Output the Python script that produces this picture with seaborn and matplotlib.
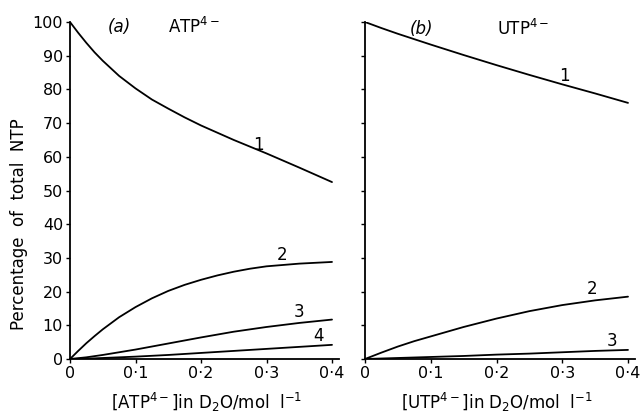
import matplotlib
matplotlib.use("Agg")
import matplotlib.pyplot as plt
import seaborn as sns

# ---- data ----
x_atp_1 = [0.0, 0.0125, 0.025, 0.0375, 0.05, 0.075, 0.1, 0.125, 0.15, 0.175, 0.2, 0.25, 0.3, 0.35, 0.4]
atp_1 = [100.0, 96.8, 93.8, 91.0, 88.5, 84.0, 80.3, 77.0, 74.3, 71.7, 69.3, 65.0, 61.0, 56.8, 52.5]
x_atp_2 = [0.0, 0.0125, 0.025, 0.0375, 0.05, 0.075, 0.1, 0.125, 0.15, 0.175, 0.2, 0.225, 0.25, 0.275, 0.3, 0.35, 0.4]
atp_2 = [0.0, 2.4, 4.7, 6.8, 8.8, 12.4, 15.4, 18.0, 20.2, 22.0, 23.5, 24.8, 25.9, 26.8, 27.5, 28.3, 28.8]
x_atp_34 = [0.0, 0.025, 0.05, 0.075, 0.1, 0.15, 0.2, 0.25, 0.3, 0.35, 0.4]
atp_3 = [0.0, 0.5, 1.2, 2.0, 2.8, 4.6, 6.4, 8.1, 9.5, 10.7, 11.7]
atp_4 = [0.0, 0.1, 0.3, 0.5, 0.7, 1.2, 1.8, 2.4, 3.0, 3.6, 4.2]

x_utp = [0.0, 0.025, 0.05, 0.075, 0.1, 0.15, 0.2, 0.25, 0.3, 0.35, 0.4]
utp_1 = [100.0, 98.2, 96.5, 94.9, 93.3, 90.2, 87.2, 84.3, 81.5, 78.8, 76.0]
utp_2 = [0.0, 1.9, 3.7, 5.3, 6.7, 9.5, 12.0, 14.2, 16.0, 17.4, 18.5]
utp_3 = [0.0, 0.15, 0.3, 0.45, 0.6, 0.9, 1.3, 1.6, 2.0, 2.4, 2.7]

x_ticks = [0.0, 0.1, 0.2, 0.3, 0.4]
x_tick_labels = ["0", "0·1", "0·2", "0·3", "0·4"]
y_ticks = [0, 10, 20, 30, 40, 50, 60, 70, 80, 90, 100]

sns.set_style("ticks")
plt.rcParams["font.family"] = ["DejaVu Sans"]
plt.rcParams["mathtext.default"] = "regular"
for k in ("text.color", "axes.labelcolor", "xtick.color", "ytick.color", "axes.edgecolor"):
    plt.rcParams[k] = "black"

fig = plt.figure(figsize=(6.42, 4.15), dpi=100)
W, H = 642, 415
xmax = 0.41
ax_a = fig.add_axes([70 / W, 1 - 359 / H, (262 / 0.4 * xmax) / W, 337 / H])
ax_b = fig.add_axes([365 / W, 1 - 359 / H, (263 / 0.4 * xmax) / W, 337 / H])

lw = 1.3
sns.lineplot(x=x_atp_1, y=atp_1, ax=ax_a, color="black", linewidth=lw)
sns.lineplot(x=x_atp_2, y=atp_2, ax=ax_a, color="black", linewidth=lw)
sns.lineplot(x=x_atp_34, y=atp_3, ax=ax_a, color="black", linewidth=lw)
sns.lineplot(x=x_atp_34, y=atp_4, ax=ax_a, color="black", linewidth=lw)
for ys in [utp_1, utp_2, utp_3]:
    sns.lineplot(x=x_utp, y=ys, ax=ax_b, color="black", linewidth=lw)

for ax in (ax_a, ax_b):
    ax.set_xlim(0, xmax)
    ax.set_ylim(0, 100)
    ax.set_xticks(x_ticks)
    ax.set_xticklabels(x_tick_labels, fontsize=11.5)
    ax.set_yticks(y_ticks)
    ax.tick_params(direction="out", length=3, width=1, colors="black", pad=2)
    sns.despine(ax=ax)
    for s in ("left", "bottom"):
        ax.spines[s].set_linewidth(1.3)
        ax.spines[s].set_color("black")
    ax.set_facecolor("none")

ax_a.set_yticklabels([str(v) for v in y_ticks], fontsize=11.5)
ax_b.set_yticklabels([])

fig.text(19 / W, 1 - 224 / H, "Percentage  of  total  NTP", fontsize=12,
         rotation=90, ha="center", va="center")
fig.text(207 / W, 1 - 402 / H, r"[ATP$^{4-}$]in D$_2$O/mol  l$^{-1}$", fontsize=12,
         ha="center", va="center")
fig.text(497 / W, 1 - 402 / H, r"[UTP$^{4-}$]in D$_2$O/mol  l$^{-1}$", fontsize=12,
         ha="center", va="center")

fs = 12
ax_a.text(0.076, 98.5, "(a)", fontsize=fs, style="italic", ha="center", va="center")
ax_a.text(0.19, 98.5, r"ATP$^{4-}$", fontsize=fs, ha="center", va="center")
ax_b.text(0.086, 97.8, "(b)", fontsize=fs, style="italic", ha="center", va="center")
ax_b.text(0.24, 97.8, r"UTP$^{4-}$", fontsize=fs, ha="center", va="center")

ax_a.text(0.287, 63.5, "1", fontsize=fs, ha="center", va="center")
ax_a.text(0.323, 31.0, "2", fontsize=fs, ha="center", va="center")
ax_a.text(0.35, 13.8, "3", fontsize=fs, ha="center", va="center")
ax_a.text(0.379, 6.8, "4", fontsize=fs, ha="center", va="center")
ax_b.text(0.304, 84.0, "1", fontsize=fs, ha="center", va="center")
ax_b.text(0.345, 20.8, "2", fontsize=fs, ha="center", va="center")
ax_b.text(0.375, 5.3, "3", fontsize=fs, ha="center", va="center")

fig.savefig("out.png", dpi=100)
